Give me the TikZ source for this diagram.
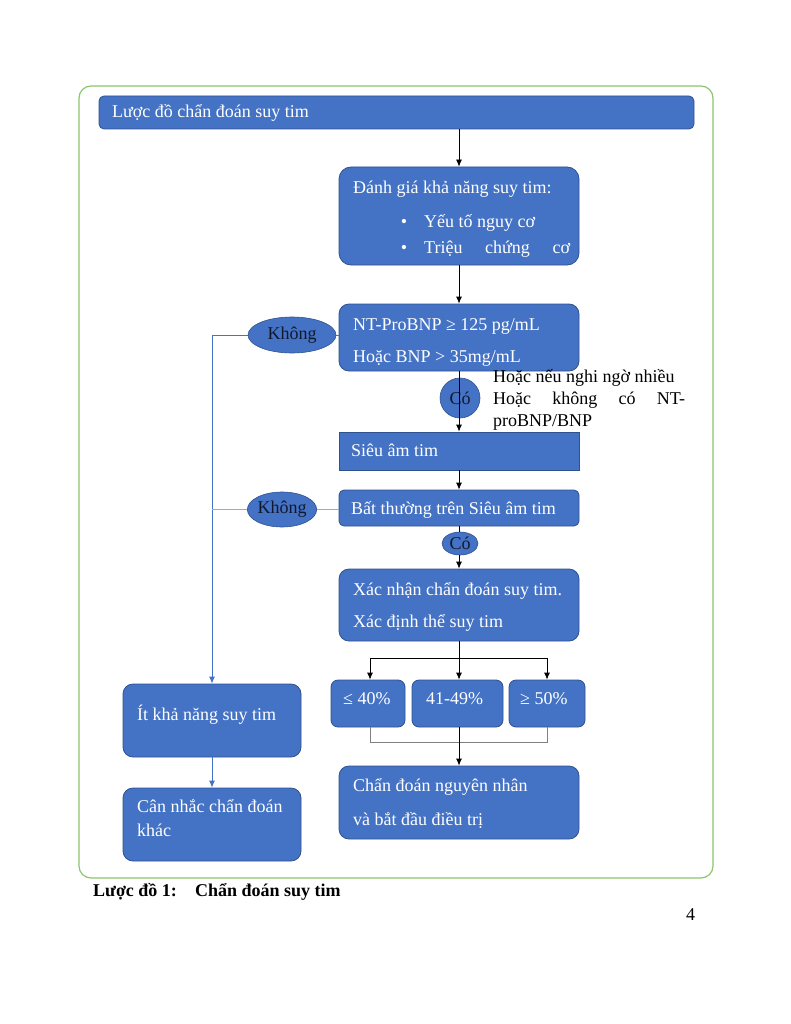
\documentclass[tikz,border=0pt]{standalone}
\usepackage{fontspec}
\setmainfont{Liberation Serif}
\usetikzlibrary{shapes.geometric,arrows.meta}
\definecolor{boxblue}{HTML}{4472C4}
\definecolor{boxedge}{HTML}{2F528F}
\definecolor{framegreen}{HTML}{8CC56A}
\definecolor{lineblue}{HTML}{4472C4}
\definecolor{lightline}{HTML}{8FAADC}
\definecolor{ovaltext}{HTML}{10182E}
\begin{document}
\begin{tikzpicture}[x=1pt,y=-1pt,
  font=\fontsize{18}{21}\selectfont,
  bluebox/.style={draw=boxedge, fill=boxblue, line width=0.8pt, inner sep=0pt, rounded corners=#1},
  bluebox/.default=10pt,
  oval/.style={ellipse, draw=boxedge, fill=boxblue, line width=0.6pt, inner sep=0pt, text=ovaltext},
  wtxt/.style={text=white, anchor=base west, inner sep=0pt},
  btxt/.style={text=black, anchor=base west, inner sep=0pt},
  arr/.style={black, line width=0.8pt, -{Latex[length=7pt,width=6pt]}},
  barr/.style={lineblue, line width=0.9pt, -{Latex[length=7pt,width=6pt]}},
]
\useasboundingbox (0,0) rectangle (791,1024);
% frame
\draw[framegreen, line width=1.2pt, rounded corners=12pt] (79,86) rectangle (713,878);
% title
\node[bluebox=5pt, minimum width=595, minimum height=33] (title) at (396.5,112.5) {};
\node[wtxt] (titletxt) at (112,118) {Lược đồ chẩn đoán suy tim};
% assess
\node[bluebox=12pt, minimum width=240, minimum height=98] (assess) at (459,216) {};
\node[wtxt] (a1) at (353,194) {Đánh giá khả năng suy tim:};
\node[text=white, anchor=base, inner sep=0pt] (bul1) at (404,228) {\textbullet};
\node[text=white, anchor=base, inner sep=0pt] (bul2) at (404,253) {\textbullet};
\node[wtxt] (a2) at (424,228) {Yếu tố nguy cơ};
\node[wtxt] (a3) at (424,253) {\hbox to 146pt{Triệu\hfill chứng\hfill cơ}};
% bnp
\node[bluebox=10pt, minimum width=240, minimum height=67] (bnp) at (459,337.5) {};
\node[wtxt] (b1) at (353,330) {NT-ProBNP ≥ 125 pg/mL};
\node[wtxt] (b2) at (353,362) {Hoặc BNP > 35mg/mL};
% side note
\node[btxt] (n1) at (493,382) {Hoặc nếu nghi ngờ nhiều};
\node[btxt] (n2) at (493,404) {\hbox to 192pt{Hoặc\hfill không\hfill có\hfill NT-}};
\node[btxt] (n3) at (493,426) {proBNP/BNP};
% echo
\node[draw=boxedge, fill=boxblue, line width=0.8pt, inner sep=0pt, minimum width=240, minimum height=38] (echo) at (459,451) {};
\node[wtxt] (e1) at (351,456) {Siêu âm tim};
% abnormal
\node[bluebox=5pt, minimum width=240, minimum height=36] (abn) at (459,508) {};
\node[wtxt] (ab1) at (351,514) {Bất thường trên Siêu âm tim};
% confirm
\node[bluebox=10pt, minimum width=240, minimum height=72] (confirm) at (459,605) {};
\node[wtxt] (c1) at (353,595) {Xác nhận chẩn đoán suy tim.};
\node[wtxt] (c2) at (353,627) {Xác định thể suy tim};
% EF boxes
\node[bluebox=7pt, minimum width=74, minimum height=47] (low) at (368,703.5) {};
\node[bluebox=7pt, minimum width=91, minimum height=47] (mid) at (457.5,703.5) {};
\node[bluebox=7pt, minimum width=76, minimum height=47] (high) at (547,703.5) {};
\node[wtxt] (l1) at (343,704) {≤ 40\%};
\node[wtxt] (m1) at (426,704) {41-49\%};
\node[wtxt] (h1) at (520,704) {≥ 50\%};
% cause
\node[bluebox=10pt, minimum width=240, minimum height=73] (cause) at (459,802.5) {};
\node[wtxt] (ca1) at (353,791) {Chẩn đoán nguyên nhân};
\node[wtxt] (ca2) at (353,825) {và bắt đầu điều trị};
% left boxes
\node[bluebox=10pt, minimum width=178, minimum height=73] (unlikely) at (212,720.5) {};
\node[wtxt] (u1) at (137,720) {Ít khả năng suy tim};
\node[bluebox=10pt, minimum width=178, minimum height=73] (other) at (212,824.5) {};
\node[wtxt] (o1) at (137,812) {Cân nhắc chẩn đoán};
\node[wtxt] (o2) at (137,836) {khác};
% ovals
\node[oval, minimum width=88, minimum height=36] (no1) at (292,335) {Không};
\node[oval, minimum width=64, minimum height=35] (no2) at (282,509.5) {Không};
\node[oval, minimum width=40, minimum height=40] (yes1) at (460,398) {Có};
\node[oval, minimum width=36, minimum height=23] (yes2) at (460,543.5) {Có};
% connectors
\draw[arr] (assess.north |- title.south) -- (assess.north);
\draw[arr] (assess.south) -- (bnp.north);
\draw[arr] (bnp.south) -- (echo.north);
\draw[arr] (echo.south) -- (abn.north);
\draw[black, line width=0.8pt] (abn.south) -- (abn.south |- yes2.north);
\draw[arr] (confirm.north |- yes2.south) -- (confirm.north);
\draw[lineblue, line width=0.9pt] (no1.east) -- (no1.east -| bnp.west);
\draw[barr] (no1.west) -| (unlikely.north);
\draw[lightline, line width=0.9pt] (no2.east) -- (no2.east -| abn.west);
\draw[lightline, line width=0.9pt] (no2.west) -- (no2.west -| unlikely.north);
\draw[barr] (unlikely.south) -- (other.north);
% EF branch
\coordinate (bl) at (370,658);
\coordinate (br) at (547,658);
\draw[arr] (confirm.south) -- (confirm.south |- mid.north);
\draw[black, line width=0.8pt] (bl) -- (br);
\draw[arr] (bl) -- (bl |- low.north);
\draw[arr] (br) -- (br |- high.north);
\draw[gray, line width=0.6pt] (bl |- low.south) -- ++(0,15) -| (br |- high.south);
\draw[arr] (cause.north |- mid.south) -- (cause.north);
% caption
\node[btxt, font=\fontsize{18}{21}\selectfont\bfseries] (cap1) at (93,896) {Lược đồ 1:};
\node[btxt, font=\fontsize{18}{21}\selectfont\bfseries] (cap2) at (195,896) {Chẩn đoán suy tim};
\node[btxt] (page) at (686,920) {4};
\end{tikzpicture}
\end{document}
